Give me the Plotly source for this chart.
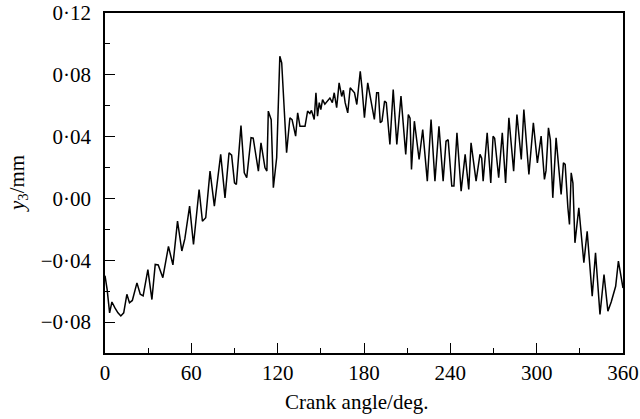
import plotly.graph_objects as go

crank_angle = [
    0, 1.5, 3.2, 4.8, 7.0, 9.0, 11.0, 13.0, 15.2, 17.0, 19.0, 22.2, 24.5, 26.5, 29.8,
    32.6, 34.9, 37.0, 40.2, 44.1, 47.2, 50.4, 53.4, 55.5, 58.8, 61.5, 65.4, 67.7, 70.0,
    73.0, 76.0, 80.4, 83.4, 86.2, 88.0, 90.0, 91.3, 94.5, 96.8, 98.5, 101.5, 103.0,
    106.6, 108.4, 111.2, 112.5, 113.5, 115.5, 117.0, 119.3, 121.5, 122.8, 126.2, 128.5,
    130.0, 132.5, 133.9, 135.5, 139.0, 140.8, 142.4, 143.5, 145.4, 146.6, 147.7, 148.9,
    150.0, 151.2, 152.8, 154.7, 156.3, 158.0, 159.3, 161.0, 162.7, 164.5, 165.7, 166.9,
    168.7, 170.4, 173.4, 175.0, 177.4, 178.6, 180.3, 182.6, 184.9, 187.2, 188.8, 190.0,
    191.3, 192.5, 194.3, 195.5, 198.0, 200.3, 202.8, 205.7, 209.0, 210.8, 212.0, 213.0,
    215.0, 218.3, 220.8, 224.0, 226.6, 229.3, 232.1, 235.0, 237.0, 238.5, 241.0, 242.5,
    244.6, 247.5, 250.3, 252.8, 254.4, 257.9, 260.6, 261.8, 262.8, 265.6, 268.1, 269.7,
    270.8, 273.6, 276.1, 278.4, 280.7, 284.0, 286.3, 289.3, 291.1, 294.6, 297.7, 300.5,
    303.1, 305.4, 306.5, 308.2, 309.5, 311.2, 313.5, 317.0, 318.6, 319.8, 321.7, 322.8,
    324.0, 325.2, 326.6, 329.3, 332.8, 335.1, 338.6, 340.9, 344.0, 346.8, 349.5, 351.8,
    354.9, 356.8, 358.0, 360.0,
]
y3_mm = [
    -0.050, -0.059, -0.074, -0.067, -0.071, -0.074, -0.076, -0.074, -0.062, -0.0675,
    -0.066, -0.0546, -0.062, -0.063, -0.046, -0.0654, -0.0427, -0.043, -0.0513, -0.031,
    -0.043, -0.0147, -0.034, -0.026, -0.005, -0.0298, 0.0058, -0.0147, -0.0125, 0.0177,
    -0.005, 0.0285, 0.0004, 0.0296, 0.028, 0.0101, 0.009, 0.0472, 0.0166, 0.0134, 0.0393,
    0.039, 0.0177, 0.036, 0.0198, 0.0177, 0.0565, 0.051, 0.0069, 0.0263, 0.092, 0.0878,
    0.0296, 0.0522, 0.051, 0.0403, 0.0554, 0.0467, 0.0467, 0.0565, 0.055, 0.057, 0.0511,
    0.0684, 0.0532, 0.062, 0.0575, 0.064, 0.061, 0.063, 0.065, 0.062, 0.0684, 0.0587,
    0.0748, 0.066, 0.070, 0.062, 0.0554, 0.0716, 0.0684, 0.0608, 0.0823, 0.0716, 0.0522,
    0.0748, 0.064, 0.0511, 0.0684, 0.0684, 0.049, 0.050, 0.063, 0.062, 0.0349, 0.0705,
    0.0349, 0.0662, 0.0285, 0.0543, 0.052, 0.0187, 0.050, 0.0252, 0.0446, 0.0112, 0.0511,
    0.0112, 0.0467, 0.0112, 0.037, 0.038, 0.008, 0.008, 0.0425, 0.0047, 0.0285, 0.0058,
    0.036, 0.0112, 0.0285, 0.026, 0.0112, 0.0425, 0.0101, 0.0403, 0.039, 0.0134, 0.0425,
    0.0101, 0.0522, 0.0177, 0.0543, 0.0252, 0.0576, 0.0155, 0.049, 0.023, 0.0403, 0.0123,
    0.018, 0.0457, 0.038, 0.0004, 0.0392, 0.0026, 0.023, 0.022, -0.006, -0.0168, 0.0166,
    0.010, -0.0287, -0.006, -0.0416, -0.0212, -0.0632, -0.0352, -0.0751, -0.0492, -0.0729,
    -0.067, -0.0568, -0.0406, -0.047, -0.058,
]

x_ticks = [0, 60, 120, 180, 240, 300, 360]
y_ticks = [-0.08, -0.04, 0.0, 0.04, 0.08, 0.12]
y_tick_labels = ["\u22120\u00b708", "\u22120\u00b704", "0\u00b700", "0\u00b704", "0\u00b708", "0\u00b712"]
x_title = "Crank angle/deg."
y_title = "<i>y</i><sub>3</sub>/mm"

FONT = "Liberation Serif, Times New Roman, serif"
FSIZE = 21

fig = go.Figure()
fig.add_trace(go.Scatter(
    x=crank_angle, y=y3_mm, mode="lines",
    line=dict(color="black", width=1.5),
    showlegend=False, hoverinfo="skip",
))

axis_common = dict(
    showgrid=False, zeroline=False, automargin=False,
    showline=True, linecolor="black", linewidth=1.6, mirror=True,
    ticks="inside", ticklen=10, tickwidth=1.4, tickcolor="black",
    tickfont=dict(family=FONT, size=FSIZE, color="black"),
)

fig.update_xaxes(
    **axis_common,
    range=[0, 360], tickmode="array", tickvals=x_ticks,
    ticktext=[str(v) for v in x_ticks],
    minor=dict(ticks="inside", ticklen=5, tickwidth=1.4, tickcolor="black", dtick=30, tick0=0),
    ticklabelstandoff=0,
)
fig.update_yaxes(
    **axis_common,
    range=[-0.1, 0.12], tickmode="array", tickvals=y_ticks, ticktext=y_tick_labels,
    minor=dict(ticks="inside", ticklen=5, tickwidth=1.4, tickcolor="black", dtick=0.02, tick0=0),
    ticklabelstandoff=8,
)

fig.add_annotation(
    text=x_title, xref="paper", yref="paper", x=0.485, y=-0.145,
    xanchor="center", yanchor="middle", showarrow=False,
    font=dict(family=FONT, size=FSIZE, color="black"),
)
fig.add_annotation(
    text=y_title, xref="paper", yref="paper", x=-0.168, y=0.5,
    xanchor="center", yanchor="middle", showarrow=False, textangle=-90,
    font=dict(family=FONT, size=FSIZE, color="black"),
)

fig.update_layout(
    width=640, height=419,
    margin=dict(l=105, r=17, t=13, b=66),
    paper_bgcolor="white", plot_bgcolor="white",
)

fig.write_html("out.html", config={"displayModeBar": False},
               post_script="document.body.style.margin='0';")
